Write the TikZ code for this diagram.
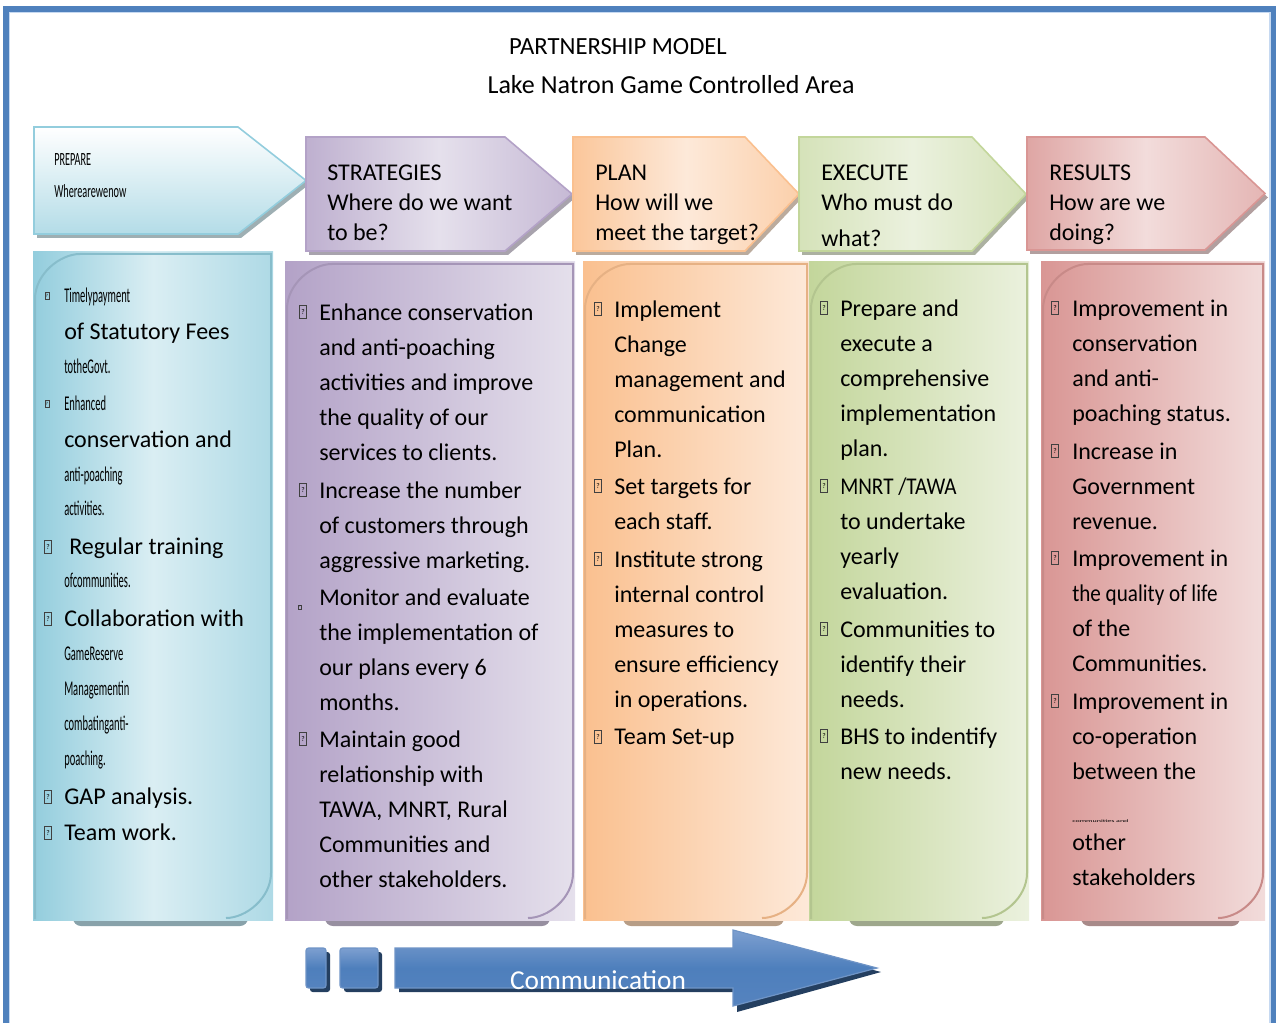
\documentclass[tikz,border=0pt]{standalone}
\usepackage{fontspec}
\usepackage{graphicx}
\setmainfont{Carlito}
\newfontfamily\narrowfam[FakeStretch=0.5]{Carlito}
\newfontfamily\narrowhead[FakeStretch=0.55]{Carlito}
\newfontfamily\slimfam[FakeStretch=0.88]{Carlito}

\definecolor{frameblue}{HTML}{4F81BD}
\definecolor{framelight}{HTML}{C6D9F1}
\definecolor{tealA}{HTML}{93CDDD}
\definecolor{tealB}{HTML}{DAEEF3}
\definecolor{lilacA}{HTML}{B3A2C7}
\definecolor{lilacB}{HTML}{E5E0EC}
\definecolor{peachA}{HTML}{FAC08F}
\definecolor{peachB}{HTML}{FDE9D9}
\definecolor{sageA}{HTML}{C3D69B}
\definecolor{sageB}{HTML}{EBF1DE}
\definecolor{roseA}{HTML}{D99694}
\definecolor{roseB}{HTML}{F2DCDB}
\definecolor{navy}{HTML}{243F60}
\definecolor{commtop}{HTML}{7D9FD0}
\definecolor{commmid}{HTML}{4E7FBC}
\definecolor{commbot}{HTML}{5583BF}
\definecolor{commedge}{HTML}{6F94C6}

\newcommand\txtbody{\fontsize{18pt}{26.25pt}\selectfont}
\newcommand\txtnarrow{\narrowfam\fontsize{15.75pt}{26.25pt}\selectfont}
\newcommand\txthead{\fontsize{18pt}{22.5pt}\selectfont}

% header chevron: left, top, slant start, tip, bottom, edge colour, fill options
\newcommand\headarrow[7]{%
  \fill[#6!35!gray!80] ({#1+3},{#2+4}) -- ({#3+3},{#2+4}) -- ({#4+3},{(#2+#5)/2+4})
     -- ({#3+3},{#5+4}) -- ({#1+3},{#5+4}) -- cycle;
  \draw[draw=#6, line width=1.2pt, #7] (#1,#2) -- (#3,#2) -- (#4,{(#2+#5)/2})
     -- (#3,#5) -- (#1,#5) -- cycle;}

\begin{document}
\begin{tikzpicture}[x=0.75pt,y=-0.75pt,
  % multi-line blocks hang from the top of a strut on their first line
  txt/.style={anchor=north west, inner sep=0pt, align=left, font=\txtbody,
    execute at begin node=\strut},
  line/.style={anchor=base west, inner sep=0pt, font=\txtbody},
  nar/.style={anchor=base west, inner sep=0pt, font=\txtnarrow},
  hd/.style={anchor=north west, inner sep=0pt, align=left, font=\txthead,
    execute at begin node=\strut},
  box/.style={draw=black!75, line width=0.45pt, inner sep=0pt, minimum width=5pt,
    minimum height=9.5pt, font=\fontsize{5.5pt}{5.5pt}\selectfont},
  boxs/.style={box, minimum width=3pt, minimum height=5.5pt,
    font=\fontsize{3.5pt}{3.5pt}\selectfont},
  comm/.style={draw=commedge, line width=0.9pt, top color=commtop,
    bottom color=commbot, middle color=commmid},
  drop/.style={fill=navy}]
\useasboundingbox (0,0) rectangle (1276,1023);

% page frame
\draw[frameblue, line width=4.5pt] (5.7,1023) -- (5.7,9) -- (1276,9);
\draw[frameblue, line width=4.5pt] (1273,9) -- (1273,1023);
\draw[framelight, line width=0.8pt] (9.5,1023) -- (9.5,12.6) -- (1270,12.6) -- (1270,1023);

% titles
\node[anchor=base, inner sep=0pt, font=\fontsize{18.5pt}{22pt}\selectfont] (title) at (618,55) {PARTNERSHIP MODEL};
\node[anchor=base, inner sep=0pt, font=\fontsize{19.5pt}{22pt}\selectfont] (subtitle) at (671,94) {Lake Natron Game Controlled Area};

% column panels: left, top, right, bottom, left colour, middle colour, right colour
\foreach \L/\T/\R/\B/\ca/\cm/\cb in {
  33/252/273/920/tealA/tealB/tealA!75!white,
  285/262/575/920/lilacA/lilacA!50!lilacB/lilacB,
  583/262/809/920/peachA/peachA!50!peachB/peachB,
  809/262/1029/920/sageA/sageA!50!sageB/sageB,
  1041/262/1265/920/roseA/roseA!50!roseB/roseB}{
  \fill[\ca!45!gray, rounded corners=6pt] ({\L+40},{\B-12}) rectangle ({\R-25},{\B+6});
  \fill[left color=\ca, right color=\cb, middle color=\cm] (\L,\T) rectangle (\R,\B);
  \draw[draw=\ca!92!black, line width=1.5pt]
    ({\L+2},{\B-1}) -- ({\L+2},{\T+47}) .. controls ({\L+2},{\T+22}) and ({\L+27},{\T+2}) .. ({\L+47},{\T+2})
    -- ({\R-2},{\T+2}) -- ({\R-2},{\B-47}) .. controls ({\R-2},{\B-22}) and ({\R-27},{\B-2}) .. ({\R-47},{\B-2});
}

% header chevrons
\headarrow{34}{127}{238}{306}{234}{tealA}{top color=white, bottom color=tealA!70!white}
\headarrow{306}{137}{505}{572}{251}{lilacA}{left color=lilacA!85!white, right color=lilacA!75!white, middle color=lilacB}
\headarrow{573}{137}{745}{799}{251}{peachA}{left color=peachA!90!white, right color=peachA!75!white, middle color=peachB}
\headarrow{799}{137}{972}{1026}{251}{sageA}{left color=sageA!70!white, right color=sageA!70!white, middle color=sageB}
\headarrow{1027}{137}{1205}{1265}{250}{roseA}{left color=roseA!85!white, right color=roseA!70!white, middle color=roseB}

% header texts
\node[anchor=base west, inner sep=0pt, font=\narrowhead\fontsize{14pt}{16pt}\selectfont] (h1a) at (54,166) {PREPARE};
\node[anchor=base west, inner sep=0pt, font=\narrowhead\fontsize{14pt}{16pt}\selectfont] (h1b) at (54,198) {Wherearewenow};
\node[hd] (h2) at (327,165) {STRATEGIES\\Where do we want\\to be?};
\node[hd] (h3) at (595,165) {PLAN\\How will we\\meet the target?};
\node[hd] (h4) at (821,165) {EXECUTE\\Who must do\\[4.5pt]what?};
\node[hd] (h5) at (1049,165) {RESULTS\\How are we\\doing?};

% column 1
\node[boxs] (b1a) at (47,296) {?};
\node[nar] (t1a) at (64,302) {Timelypayment};
\node[line] (t1b) at (64,339) {of Statutory Fees};
\node[nar] (t1c) at (64,373) {totheGovt.};
\node[boxs] (b1b) at (47,404) {?};
\node[nar] (t1d) at (64,410) {Enhanced};
\node[line] (t1e) at (64,447) {conservation and};
\node[nar] (t1f) at (64,481) {anti-poaching};
\node[nar] (t1g) at (64,515) {activities.};
\node[box] (b1c) at (48,547) {?};
\node[line] (t1h) at (69,554) {Regular training};
\node[nar] (t1i) at (64,587) {ofcommunities.};
\node[box] (b1d) at (48,619) {?};
\node[line] (t1j) at (64,626) {Collaboration with};
\node[nar] (t1k) at (64,660) {GameReserve};
\node[nar] (t1l) at (64,695) {Managementin};
\node[nar] (t1m) at (64,730) {combatinganti-};
\node[nar] (t1n) at (64,765) {poaching.};
\node[box] (b1e) at (48,797) {?};
\node[line] (t1o) at (64,804) {GAP analysis.};
\node[box] (b1f) at (48,833) {?};
\node[line] (t1p) at (64,840) {Team work.};

% column 2
\node[box] (b2a) at (303,312) {?};
\node[txt] (t2a) at (319,303.5) {Enhance conservation\\and anti-poaching\\activities and improve\\the quality of our\\services to clients.};
\node[box] (b2b) at (303,490) {?};
\node[txt] (t2b) at (319,481.5) {Increase the number\\of customers through\\aggressive marketing.};
\node[boxs, minimum width=2pt, minimum height=3pt, font=\fontsize{2pt}{2pt}\selectfont] (b2c) at (300,607) {?};
\node[txt] (t2c) at (319,588.5) {Monitor and evaluate\\the implementation of\\our plans every 6\\months.};
\node[box] (b2d) at (303,739) {?};
\node[txt] (t2d) at (319,730.5) {Maintain good\\relationship with\\TAWA, MNRT, Rural\\Communities and\\other stakeholders.};

% column 3
\node[box] (b3a) at (598,309) {?};
\node[txt] (t3a) at (614,300.5) {Implement\\Change\\management and\\communication\\Plan.};
\node[box] (b3b) at (598,486) {?};
\node[txt] (t3b) at (614,477.5) {Set targets for\\each staff.};
\node[box] (b3c) at (598,559) {?};
\node[txt] (t3c) at (614,550.5) {Institute strong\\internal control\\measures to\\ensure efficiency\\in operations.};
\node[box] (b3d) at (598,737) {?};
\node[line] (t3d) at (614,744) {Team Set-up};

% column 4
\node[box] (b4a) at (824,308) {?};
\node[txt] (t4a) at (840,299.5) {Prepare and\\execute a\\comprehensive\\implementation\\plan.};
\node[box] (b4b) at (824,486) {?};
\node[txt] (t4b) at (840,477.5) {{\slimfam MNRT /TAWA}\\to undertake\\yearly\\evaluation.};
\node[box] (b4c) at (824,629) {?};
\node[txt] (t4c) at (840,620.5) {Communities to\\identify their\\needs.};
\node[box] (b4d) at (824,736) {?};
\node[txt] (t4d) at (840,727.5) {BHS to indentify\\new needs.};

% column 5
\node[box] (b5a) at (1055,308) {?};
\node[txt] (t5a) at (1072,299.5) {Improvement in\\conservation\\and anti-\\poaching status.};
\node[box] (b5b) at (1055,451) {?};
\node[txt] (t5b) at (1072,442.5) {Increase in\\Government\\revenue.};
\node[box] (b5c) at (1055,558) {?};
\node[txt] (t5c) at (1072,549.5) {Improvement in\\{\slimfam the quality of life}\\of the\\Communities.};
\node[box] (b5d) at (1055,701) {?};
\node[txt] (t5d) at (1072,692.5) {Improvement in\\co-operation\\between the};
\node[anchor=base west, inner sep=0pt, font=\fontsize{6pt}{6pt}\selectfont] (t5e) at (1072,822) {\scalebox{1}[0.5]{communities and}};
\node[txt] (t5f) at (1072,833.5) {other\\stakeholders};

% communication arrow
\fill[drop, rounded corners=2pt] (310,952) rectangle (330,992);
\fill[drop, rounded corners=2pt] (344,952) rectangle (382,992);
\fill[drop] (399,952) -- (737,952) -- (737,934) -- (881,972) -- (737,1012) -- (737,992) -- (399,992) -- cycle;
\draw[comm, rounded corners=2pt] (306,948) rectangle (326,988);
\draw[comm, rounded corners=2pt] (340,948) rectangle (378,988);
\draw[comm] (395,948) -- (733,948) -- (733,930) -- (877,968) -- (733,1006) -- (733,988) -- (395,988) -- cycle;
\node[anchor=base, inner sep=0pt, text=white, font=\fontsize{20.5pt}{24pt}\selectfont] (comm) at (598,989) {Communication};
\end{tikzpicture}
\end{document}
